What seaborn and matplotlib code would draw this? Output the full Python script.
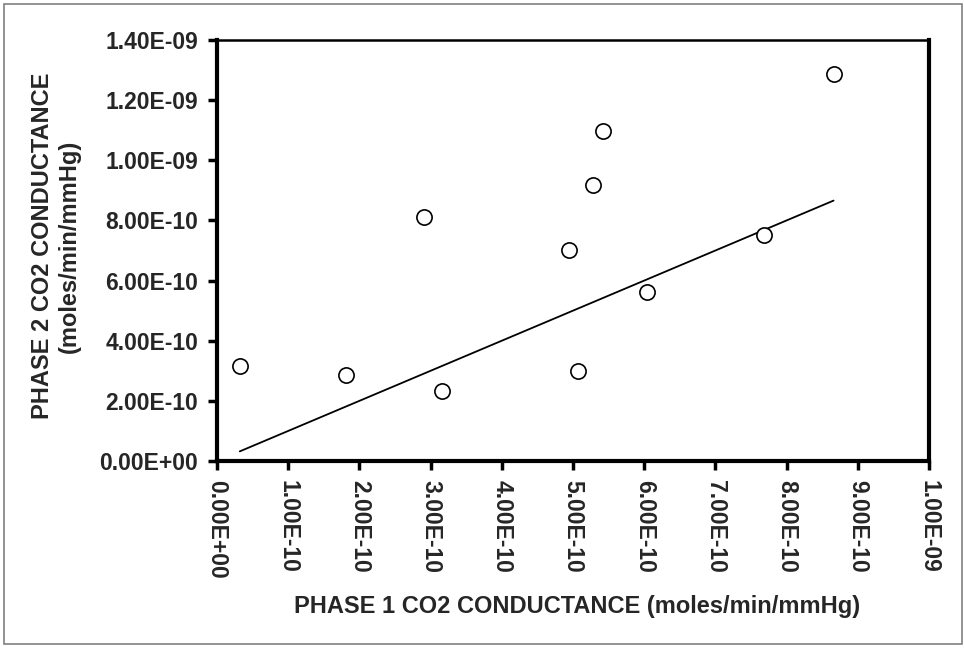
import numpy as np
import pandas as pd
import matplotlib
matplotlib.use("Agg")
import matplotlib.pyplot as plt
import seaborn as sns
from matplotlib.ticker import FuncFormatter, MultipleLocator
from matplotlib.patches import Rectangle

# Data (moles/min/mmHg)
phase1 = [0.32e-10, 1.81e-10, 2.91e-10, 3.16e-10, 4.94e-10, 5.07e-10,
          5.28e-10, 5.42e-10, 6.04e-10, 7.68e-10, 8.66e-10]
phase2 = [3.16e-10, 2.86e-10, 8.10e-10, 2.33e-10, 7.01e-10, 2.99e-10,
          9.17e-10, 10.96e-10, 5.61e-10, 7.51e-10, 12.88e-10]

x_label = "PHASE 1 CO2 CONDUCTANCE (moles/min/mmHg)"
y_label = "PHASE 2 CO2 CONDUCTANCE\n(moles/min/mmHg)"

sns.set_style("white")
plt.rcParams['font.family'] = ['Liberation Sans', 'DejaVu Sans']

df = pd.DataFrame({"p1": phase1, "p2": phase2})
ident = pd.DataFrame({"x": [min(phase1), max(phase1)],
                      "y": [min(phase1), max(phase1)]})

fig = plt.figure(figsize=(9.64, 6.5), dpi=100)
ax = fig.add_axes([217/964, 1-461/650, (929-217)/964, (461-40)/650])

sns.lineplot(data=ident, x="x", y="y", ax=ax, color="black", linewidth=1.3)
sns.scatterplot(data=df, x="p1", y="p2", ax=ax, s=120, facecolor="white",
                edgecolor="black", linewidth=1.2, zorder=5)

ax.set_xlim(0, 1e-9)
ax.set_ylim(0, 1.4e-9)
ax.xaxis.set_major_locator(MultipleLocator(1e-10))
ax.yaxis.set_major_locator(MultipleLocator(2e-10))
fmt = FuncFormatter(lambda v, p: f"{v:.2E}")
ax.xaxis.set_major_formatter(fmt)
ax.yaxis.set_major_formatter(fmt)

for lab in ax.get_xticklabels():
    lab.set_rotation(-90)
    lab.set_fontweight("bold")
    lab.set_fontsize(16.5)
for lab in ax.get_yticklabels():
    lab.set_fontweight("bold")
    lab.set_fontsize(16.5)

ax.tick_params(axis="both", direction="out", length=6.5, width=2.5,
               color="black", bottom=True, left=True)
ax.tick_params(axis="x", pad=7)
ax.tick_params(axis="y", pad=7)

for side in ["left", "bottom", "right"]:
    ax.spines[side].set_linewidth(3)
    ax.spines[side].set_color("black")
ax.spines["top"].set_linewidth(1.8)
ax.spines["top"].set_color("black")

ax.set_xlabel("")
ax.set_ylabel("")
fig.text(577/964, 1-607/650, x_label, ha="center", va="center",
         fontsize=17, fontweight="bold")
fig.text(56/964, 1-246/650, y_label, ha="center", va="center",
         fontsize=17, fontweight="bold", rotation=90, linespacing=1.25)

fig.patches.append(Rectangle((4/964, 1-644/650), (962-4)/964, (644-4)/650,
                             transform=fig.transFigure, fill=False,
                             edgecolor="#808080", linewidth=1.2))

fig.savefig("out.png", dpi=100)
